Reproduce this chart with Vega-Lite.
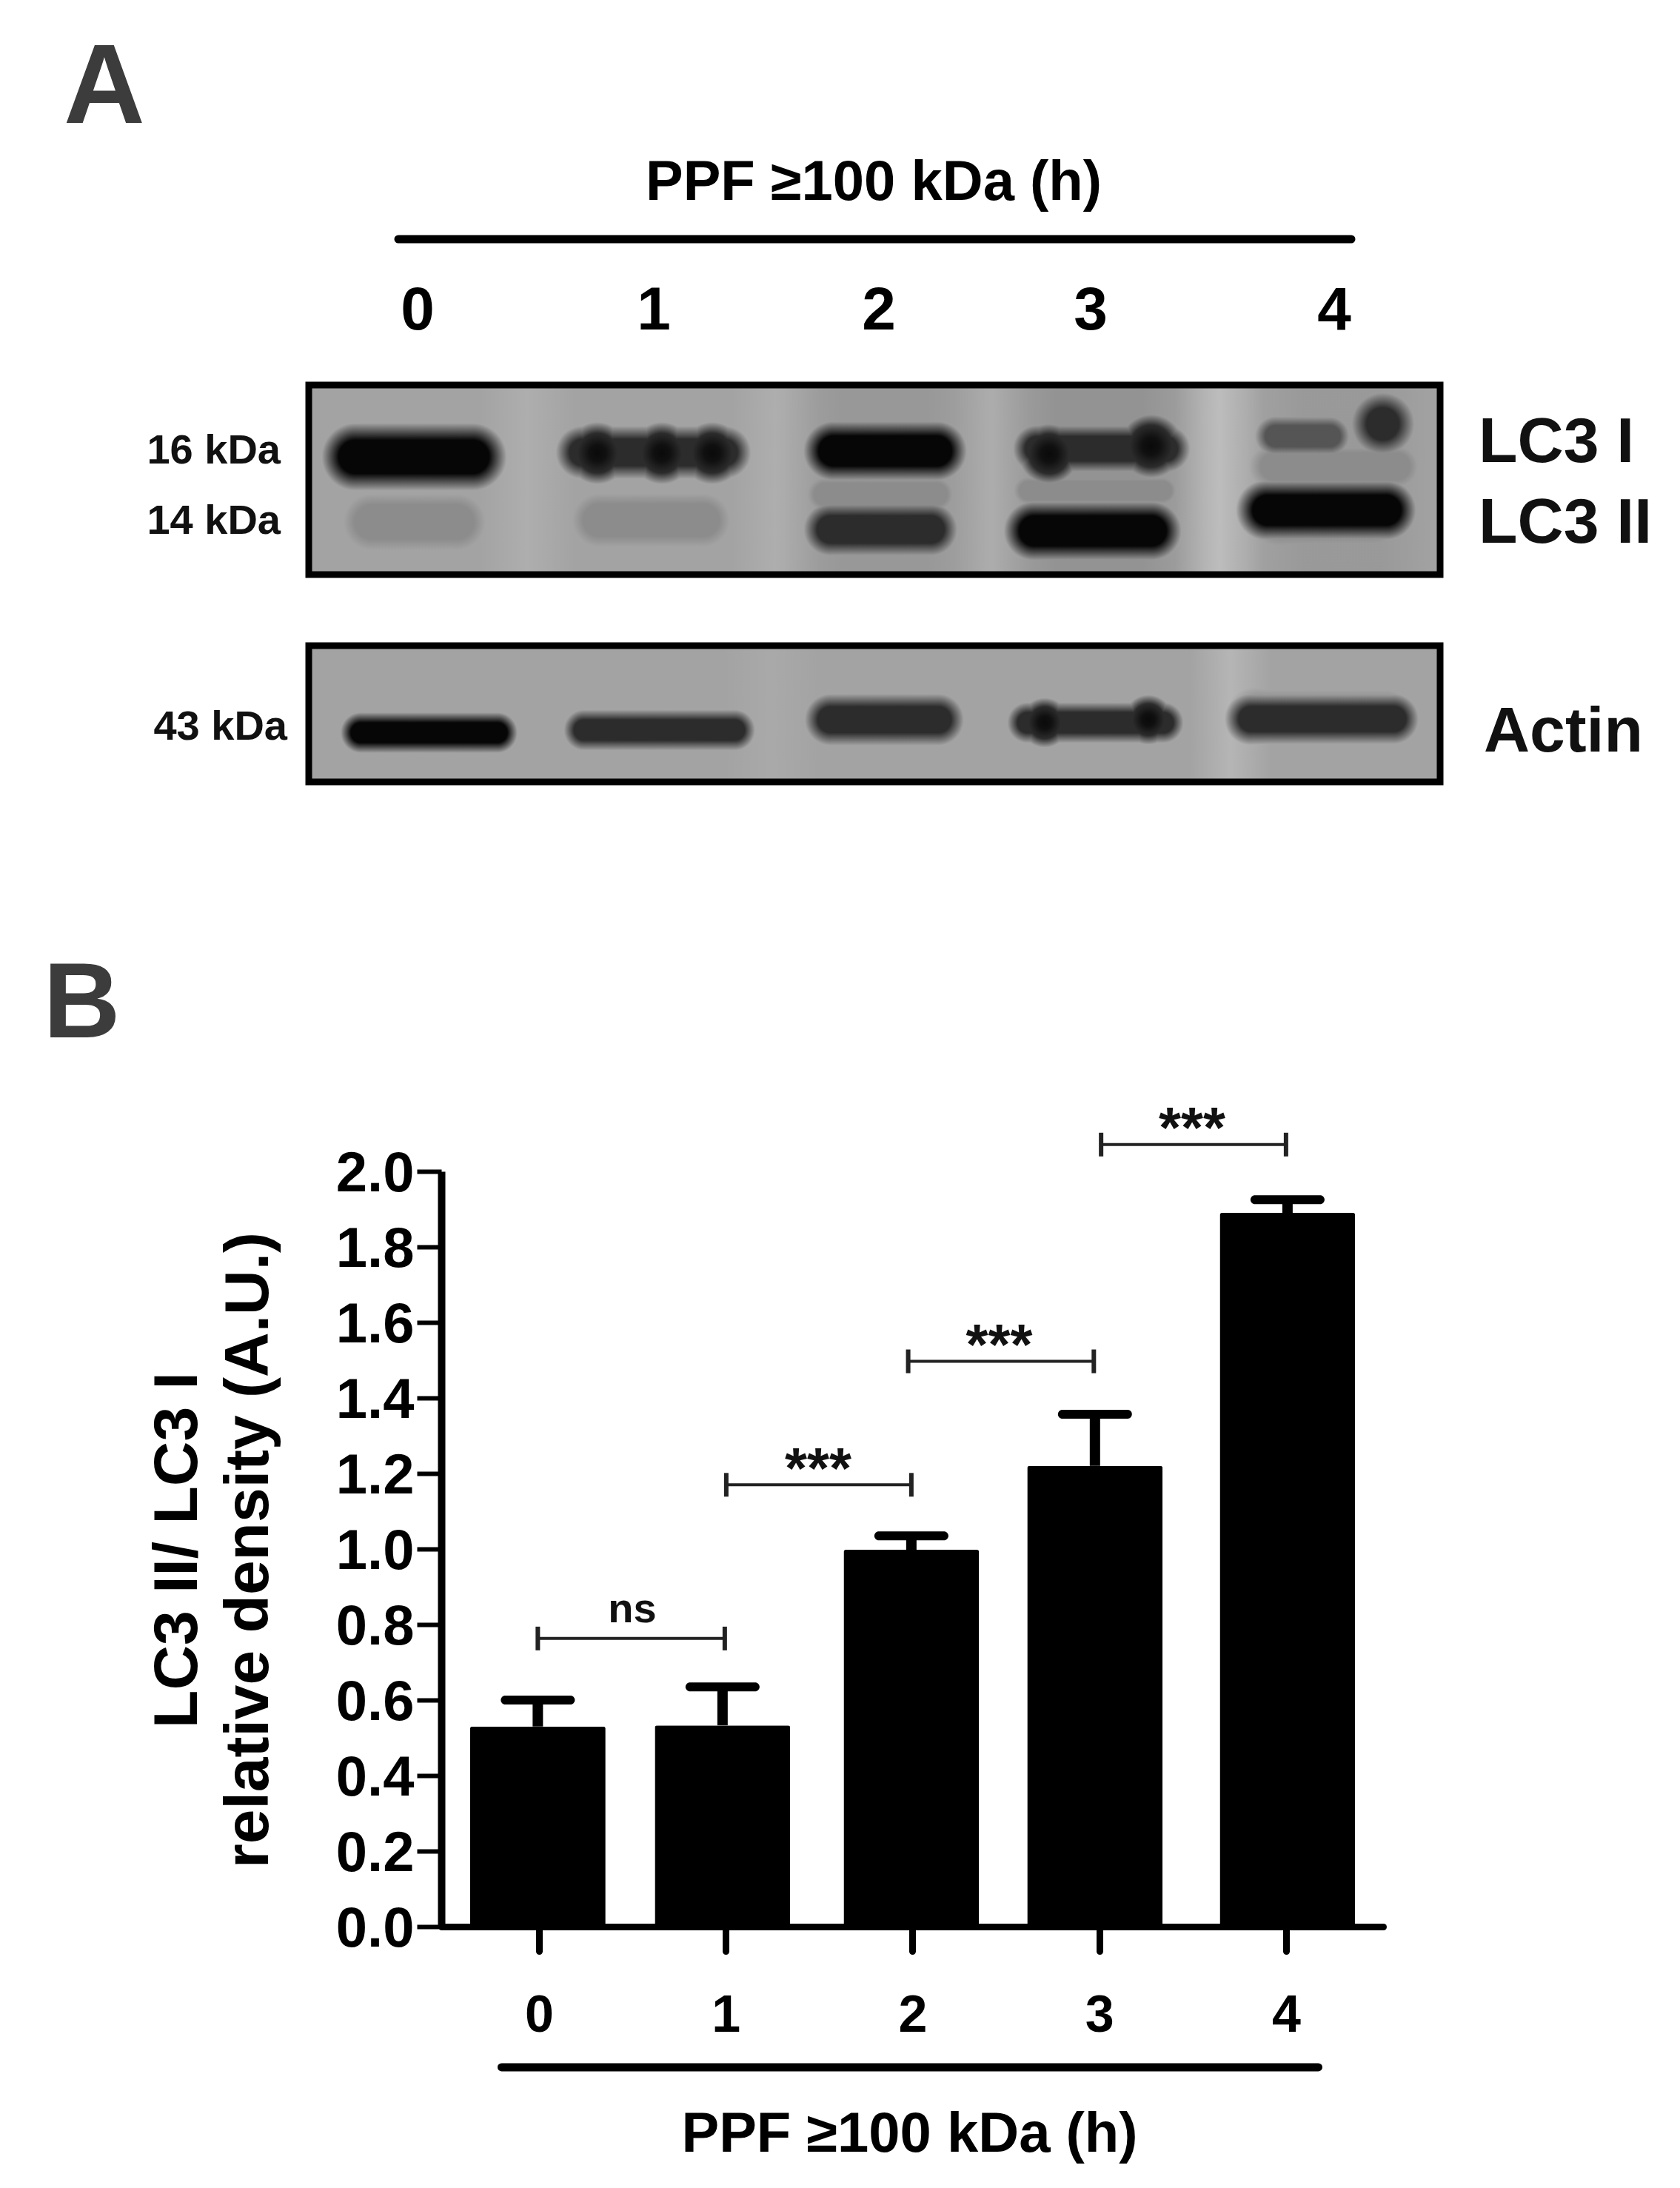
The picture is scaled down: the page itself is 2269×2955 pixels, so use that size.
{"$schema":"https://vega.github.io/schema/vega-lite/v6.json","width":2269,"height":2955,"autosize":{"type":"fit","contains":"padding"},"padding":0,"background":"white","config":{"view":{"stroke":null},"font":"Liberation Sans","axis":{"grid":false}},
"datasets":{
"bars":[{"hour":0,"pos":-0.006,"mean":0.53,"upper":0.60},{"hour":1,"pos":0.983,"mean":0.533,"upper":0.635},{"hour":2,"pos":1.994,"mean":0.998,"upper":1.035},{"hour":3,"pos":2.977,"mean":1.22,"upper":1.357},{"hour":4,"pos":4.008,"mean":1.89,"upper":1.925}],
"brackets":[{"from":-0.006,"to":0.995,"level":0.763,"mid":0.5,"labelY":0.84,"label":"ns"},{"from":1.003,"to":1.994,"level":1.17,"mid":1.495,"labelY":1.206,"label":"***"},{"from":1.977,"to":2.971,"level":1.497,"mid":2.464,"labelY":1.533,"label":"***"},{"from":3.01,"to":4.0,"level":2.071,"mid":3.497,"labelY":2.107,"label":"***"}],
"bodiesLC3":[
{"tone":"black","x1":63,"x2":221,"y1":48,"y2":146},{"tone":"black","x1":709,"x2":848,"y1":45,"y2":133},{"tone":"black","x1":980,"x2":1138,"y1":153,"y2":241},{"tone":"black","x1":1295,"x2":1455,"y1":125,"y2":213},
{"tone":"dark","x1":370,"x2":561,"y1":52,"y2":130},{"tone":"dark","x1":984,"x2":1157,"y1":50,"y2":122},{"tone":"dark","x1":705,"x2":840,"y1":155,"y2":235},
{"tone":"mid","x1":1306,"x2":1379,"y1":38,"y2":100},
{"tone":"faint","x1":1304,"x2":1469,"y1":70,"y2":150},{"tone":"faint","x1":85,"x2":200,"y1":135,"y2":235},{"tone":"faint","x1":392,"x2":533,"y1":135,"y2":230},{"tone":"faint","x1":697,"x2":848,"y1":115,"y2":180},{"tone":"faint","x1":972,"x2":1153,"y1":115,"y2":170},{"tone":"faint","x1":1312,"x2":1438,"y1":120,"y2":235}],
"capsLC3":[
{"tone":"black","x1":14,"x2":112,"y1":48,"y2":146},{"tone":"black","x1":172,"x2":270,"y1":48,"y2":146},{"tone":"black","x1":665,"x2":753,"y1":45,"y2":133},{"tone":"black","x1":804,"x2":892,"y1":45,"y2":133},{"tone":"black","x1":936,"x2":1024,"y1":153,"y2":241},{"tone":"black","x1":1094,"x2":1182,"y1":153,"y2":241},{"tone":"black","x1":1251,"x2":1339,"y1":125,"y2":213},{"tone":"black","x1":1411,"x2":1499,"y1":125,"y2":213},
{"tone":"peak","x1":345,"x2":435,"y1":47,"y2":137},{"tone":"peak","x1":432,"x2":522,"y1":47,"y2":137},{"tone":"peak","x1":500,"x2":590,"y1":47,"y2":137},{"tone":"peak","x1":955,"x2":1045,"y1":48,"y2":138},{"tone":"peak","x1":1090,"x2":1185,"y1":35,"y2":130},
{"tone":"dark","x1":331,"x2":409,"y1":52,"y2":130},{"tone":"dark","x1":522,"x2":600,"y1":52,"y2":130},{"tone":"dark","x1":948,"x2":1020,"y1":50,"y2":122},{"tone":"dark","x1":1121,"x2":1193,"y1":50,"y2":122},{"tone":"dark","x1":665,"x2":745,"y1":155,"y2":235},{"tone":"dark","x1":800,"x2":880,"y1":155,"y2":235},{"tone":"dark","x1":1403,"x2":1498,"y1":5,"y2":100},
{"tone":"mid","x1":1275,"x2":1337,"y1":38,"y2":100},{"tone":"mid","x1":1348,"x2":1410,"y1":38,"y2":100},
{"tone":"faint","x1":1264,"x2":1344,"y1":70,"y2":150},{"tone":"faint","x1":1429,"x2":1509,"y1":70,"y2":150},{"tone":"faint","x1":35,"x2":135,"y1":135,"y2":235},{"tone":"faint","x1":150,"x2":250,"y1":135,"y2":235},{"tone":"faint","x1":345,"x2":440,"y1":135,"y2":230},{"tone":"faint","x1":485,"x2":580,"y1":135,"y2":230},{"tone":"faint","x1":665,"x2":730,"y1":115,"y2":180},{"tone":"faint","x1":815,"x2":880,"y1":115,"y2":180},{"tone":"faint","x1":945,"x2":1000,"y1":115,"y2":170},{"tone":"faint","x1":1125,"x2":1180,"y1":115,"y2":170},{"tone":"faint","x1":1255,"x2":1370,"y1":120,"y2":235},{"tone":"faint","x1":1380,"x2":1495,"y1":120,"y2":235}],
"bodiesActin":[
{"tone":"black","x1":70,"x2":255,"y1":88,"y2":147},
{"tone":"dark","x1":372,"x2":575,"y1":84,"y2":144},{"tone":"dark","x1":705,"x2":850,"y1":62,"y2":138},{"tone":"dark","x1":971,"x2":1154,"y1":74,"y2":134},{"tone":"dark","x1":1273,"x2":1465,"y1":62,"y2":136},
{"tone":"faint","x1":1282,"x2":1456,"y1":50,"y2":135}],
"capsActin":[
{"tone":"black","x1":41,"x2":100,"y1":88,"y2":147},{"tone":"black","x1":225,"x2":284,"y1":88,"y2":147},{"tone":"peak","x1":958,"x2":1030,"y1":68,"y2":140},{"tone":"peak","x1":1098,"x2":1170,"y1":64,"y2":136},
{"tone":"dark","x1":342,"x2":402,"y1":84,"y2":144},{"tone":"dark","x1":545,"x2":605,"y1":84,"y2":144},{"tone":"dark","x1":667,"x2":743,"y1":62,"y2":138},{"tone":"dark","x1":812,"x2":888,"y1":62,"y2":138},{"tone":"dark","x1":941,"x2":1001,"y1":74,"y2":134},{"tone":"dark","x1":1124,"x2":1184,"y1":74,"y2":134},{"tone":"dark","x1":1236,"x2":1310,"y1":62,"y2":136},{"tone":"dark","x1":1428,"x2":1502,"y1":62,"y2":136},
{"tone":"faint","x1":1240,"x2":1325,"y1":50,"y2":135},{"tone":"faint","x1":1413,"x2":1498,"y1":50,"y2":135}],
"glowLC3":[{"x1":230,"x2":360,"density":0.12},{"x1":570,"x2":690,"density":0.12},{"x1":870,"x2":975,"density":0.1},{"x1":1170,"x2":1290,"density":0.28}],
"shadeLC3":[{"x1":640,"x2":915,"density":0.07},{"x1":925,"x2":1210,"density":0.1},{"x1":1265,"x2":1528,"density":0.06}],
"glowActin":[{"x1":560,"x2":690,"density":0.07},{"x1":1190,"x2":1300,"density":0.2}],
"blot":[{"x1":0,"x2":1528,"shade":171}],
"titleA":[{"label":"PPF ≥100 kDa (h)","gx":763,"gy":-273}],
"lanes":[{"label":"0","gx":147,"gy":-100},{"label":"1","gx":466,"gy":-100},{"label":"2","gx":770,"gy":-100},{"label":"3","gx":1056,"gy":-100},{"label":"4","gx":1385,"gy":-100}],
"kda":[{"label":"16 kDa","gx":-38,"gy":89},{"label":"14 kDa","gx":-38,"gy":184},{"label":"43 kDa","gx":-29,"gy":462}],
"proteins":[{"label":"LC3 I","gx":1580,"gy":78},{"label":"LC3 II","gx":1580,"gy":187},{"label":"Actin","gx":1587,"gy":469}]
},
"resolve":{"scale":{"x":"independent","y":"independent"}},
"layer":[
{"layer":[
{"data":{"name":"bars"},"mark":{"type":"bar","orient":"vertical","size":183,"color":"#000000","cornerRadius":3},"encoding":{"x":{"field":"pos","type":"quantitative","scale":{"domain":[-0.503,4.5],"range":[596,1868],"nice":false,"zero":false},"axis":{"values":[0,1,2,3,4],"format":"d","orient":"bottom","offset":-353,"title":"PPF ≥100 kDa (h)","titleX":1228,"titleY":303,"titleFontSize":76,"titleFontWeight":"bold","titleColor":"#000000","titleBaseline":"alphabetic","titleAlign":"center","labelFontSize":70,"labelFontWeight":"bold","labelColor":"#000000","labelPadding":53,"labelAngle":0,"tickSize":33,"tickWidth":9,"tickColor":"#000000","tickCap":"round","domainWidth":9,"domainColor":"#000000","domainCap":"round","labelFlush":false,"labelOverlap":false,"grid":false}},"y":{"field":"mean","type":"quantitative","scale":{"domain":[0,2],"range":[2602,1582],"nice":false,"zero":false},"axis":{"values":[0,0.2,0.4,0.6,0.8,1,1.2,1.4,1.6,1.8,2],"format":".1f","orient":"left","offset":-596,"title":["LC3 II/ LC3 I","relative density (A.U.)"],"titleX":-331,"titleY":2093,"titleAngle":-90,"titleFontSize":84,"titleFontWeight":"bold","titleColor":"#000000","titleBaseline":"alphabetic","titleAlign":"center","titleLineHeight":96,"labelFontSize":76,"labelFontWeight":"bold","labelColor":"#000000","labelPadding":4,"labelOffset":3,"tickSize":33,"tickWidth":6,"tickColor":"#000000","domainWidth":10,"domainColor":"#000000","labelFlush":false,"labelOverlap":false,"grid":false}}}},
{"data":{"name":"bars"},"mark":{"type":"rule","strokeWidth":14,"color":"#000000"},"encoding":{"x":{"field":"pos","type":"quantitative"},"y":{"field":"mean","type":"quantitative"},"y2":{"field":"upper"}}},
{"data":{"name":"bars"},"mark":{"type":"tick","orient":"horizontal","size":100,"thickness":12,"cornerRadius":6,"color":"#000000","opacity":1},"encoding":{"x":{"field":"pos","type":"quantitative"},"y":{"field":"upper","type":"quantitative"}}},
{"data":{"name":"brackets"},"mark":{"type":"rule","strokeWidth":4,"color":"#222222"},"encoding":{"x":{"field":"from","type":"quantitative"},"x2":{"field":"to"},"y":{"field":"level","type":"quantitative"}}},
{"data":{"name":"brackets"},"mark":{"type":"tick","orient":"vertical","size":32,"thickness":6,"color":"#222222","opacity":1},"encoding":{"x":{"field":"from","type":"quantitative"},"y":{"field":"level","type":"quantitative"}}},
{"data":{"name":"brackets"},"mark":{"type":"tick","orient":"vertical","size":32,"thickness":6,"color":"#222222","opacity":1},"encoding":{"x":{"field":"to","type":"quantitative"},"y":{"field":"level","type":"quantitative"}}},
{"data":{"name":"brackets"},"transform":[{"filter":"datum.label==='ns'"}],"mark":{"type":"text","fontSize":56,"fontWeight":"bold","color":"#111111","baseline":"middle"},"encoding":{"x":{"field":"mid","type":"quantitative"},"y":{"field":"labelY","type":"quantitative"},"text":{"field":"label"}}},
{"data":{"name":"brackets"},"transform":[{"filter":"datum.label!=='ns'"}],"mark":{"type":"text","fontSize":77,"fontWeight":"bold","color":"#111111","baseline":"middle"},"encoding":{"x":{"field":"mid","type":"quantitative"},"y":{"field":"labelY","type":"quantitative"},"text":{"field":"label"}}},
{"data":{"values":[{"from":-0.2,"to":4.173,"level":-0.3725}]},"mark":{"type":"rule","strokeWidth":11,"strokeCap":"round","color":"#000000"},"encoding":{"x":{"field":"from","type":"quantitative"},"x2":{"field":"to"},"y":{"field":"level","type":"quantitative"}}},
{"data":{"values":[{"label":"B","px":-2.448,"py":2.439}]},"mark":{"type":"text","fontSize":144,"fontWeight":"bold","color":"#3c3c3c","baseline":"middle"},"encoding":{"x":{"field":"px","type":"quantitative"},"y":{"field":"py","type":"quantitative"},"text":{"field":"label"}}}
]},
{"layer":[
{"data":{"name":"blot"},"mark":{"type":"rect","strokeWidth":0},"encoding":{"x":{"field":"x1","type":"quantitative","axis":null,"scale":{"domain":[0,1528],"range":[417,1945],"nice":false,"zero":false}},"x2":{"field":"x2"},"y":{"datum":0,"type":"quantitative","axis":null,"scale":{"domain":[0,256],"range":[520,776],"nice":false,"zero":false}},"y2":{"datum":256},"color":{"field":"shade","type":"quantitative","legend":null,"scale":{"domain":[0,255],"range":["#000000","#ffffff"]}}}},
{"data":{"name":"glowLC3"},"mark":{"type":"rect","strokeWidth":0,"fill":{"gradient":"linear","x1":0,"y1":0,"x2":1,"y2":0,"stops":[{"offset":0,"color":"rgba(255,255,255,0)"},{"offset":0.5,"color":"rgba(255,255,255,1)"},{"offset":1,"color":"rgba(255,255,255,0)"}]}},"encoding":{"x":{"field":"x1","type":"quantitative","axis":null},"x2":{"field":"x2"},"y":{"datum":0,"type":"quantitative","axis":null},"y2":{"datum":256},"opacity":{"field":"density","type":"quantitative","legend":null,"scale":{"domain":[0,1],"range":[0,1]}}}},
{"data":{"name":"shadeLC3"},"mark":{"type":"rect","strokeWidth":0,"fill":{"gradient":"linear","x1":0,"y1":0,"x2":1,"y2":0,"stops":[{"offset":0,"color":"rgba(0,0,0,0)"},{"offset":0.3,"color":"rgba(0,0,0,1)"},{"offset":0.7,"color":"rgba(0,0,0,1)"},{"offset":1,"color":"rgba(0,0,0,0)"}]}},"encoding":{"x":{"field":"x1","type":"quantitative","axis":null},"x2":{"field":"x2"},"y":{"datum":0,"type":"quantitative","axis":null},"y2":{"datum":256},"opacity":{"field":"density","type":"quantitative","legend":null,"scale":{"domain":[0,1],"range":[0,1]}}}},
{"data":{"name":"bodiesLC3"},"transform":[{"filter":"datum.tone==='faint'"}],"mark":{"type":"rect","strokeWidth":0,"blend":"darken","fill":{"gradient":"linear","x1":0,"y1":0,"x2":0,"y2":1,"stops":[{"offset":0,"color":"#ffffff"},{"offset":0.01,"color":"#b4b4b4"},{"offset":0.27,"color":"#8c8c8c"},{"offset":0.73,"color":"#8c8c8c"},{"offset":0.99,"color":"#b4b4b4"},{"offset":1,"color":"#ffffff"}]}},"encoding":{"x":{"field":"x1","type":"quantitative","axis":null},"x2":{"field":"x2"},"y":{"field":"y1","type":"quantitative","axis":null},"y2":{"field":"y2"}}},
{"data":{"name":"capsLC3"},"transform":[{"filter":"datum.tone==='faint'"}],"mark":{"type":"rect","strokeWidth":0,"blend":"darken","fill":{"gradient":"radial","x1":0.5,"y1":0.5,"r1":0,"x2":0.5,"y2":0.5,"r2":0.5,"stops":[{"offset":0,"color":"#8c8c8c"},{"offset":0.46,"color":"#8c8c8c"},{"offset":0.98,"color":"#b4b4b4"},{"offset":1,"color":"#ffffff"}]}},"encoding":{"x":{"field":"x1","type":"quantitative","axis":null},"x2":{"field":"x2"},"y":{"field":"y1","type":"quantitative","axis":null},"y2":{"field":"y2"}}},
{"data":{"name":"bodiesLC3"},"transform":[{"filter":"datum.tone==='mid'"}],"mark":{"type":"rect","strokeWidth":0,"blend":"darken","fill":{"gradient":"linear","x1":0,"y1":0,"x2":0,"y2":1,"stops":[{"offset":0,"color":"#ffffff"},{"offset":0.01,"color":"#b4b4b4"},{"offset":0.27,"color":"#555555"},{"offset":0.73,"color":"#555555"},{"offset":0.99,"color":"#b4b4b4"},{"offset":1,"color":"#ffffff"}]}},"encoding":{"x":{"field":"x1","type":"quantitative","axis":null},"x2":{"field":"x2"},"y":{"field":"y1","type":"quantitative","axis":null},"y2":{"field":"y2"}}},
{"data":{"name":"capsLC3"},"transform":[{"filter":"datum.tone==='mid'"}],"mark":{"type":"rect","strokeWidth":0,"blend":"darken","fill":{"gradient":"radial","x1":0.5,"y1":0.5,"r1":0,"x2":0.5,"y2":0.5,"r2":0.5,"stops":[{"offset":0,"color":"#555555"},{"offset":0.46,"color":"#555555"},{"offset":0.98,"color":"#b4b4b4"},{"offset":1,"color":"#ffffff"}]}},"encoding":{"x":{"field":"x1","type":"quantitative","axis":null},"x2":{"field":"x2"},"y":{"field":"y1","type":"quantitative","axis":null},"y2":{"field":"y2"}}},
{"data":{"name":"bodiesLC3"},"transform":[{"filter":"datum.tone==='dark'"}],"mark":{"type":"rect","strokeWidth":0,"blend":"darken","fill":{"gradient":"linear","x1":0,"y1":0,"x2":0,"y2":1,"stops":[{"offset":0,"color":"#ffffff"},{"offset":0.01,"color":"#b4b4b4"},{"offset":0.27,"color":"#2c2c2c"},{"offset":0.73,"color":"#2c2c2c"},{"offset":0.99,"color":"#b4b4b4"},{"offset":1,"color":"#ffffff"}]}},"encoding":{"x":{"field":"x1","type":"quantitative","axis":null},"x2":{"field":"x2"},"y":{"field":"y1","type":"quantitative","axis":null},"y2":{"field":"y2"}}},
{"data":{"name":"capsLC3"},"transform":[{"filter":"datum.tone==='dark'"}],"mark":{"type":"rect","strokeWidth":0,"blend":"darken","fill":{"gradient":"radial","x1":0.5,"y1":0.5,"r1":0,"x2":0.5,"y2":0.5,"r2":0.5,"stops":[{"offset":0,"color":"#2c2c2c"},{"offset":0.46,"color":"#2c2c2c"},{"offset":0.98,"color":"#b4b4b4"},{"offset":1,"color":"#ffffff"}]}},"encoding":{"x":{"field":"x1","type":"quantitative","axis":null},"x2":{"field":"x2"},"y":{"field":"y1","type":"quantitative","axis":null},"y2":{"field":"y2"}}},
{"data":{"name":"capsLC3"},"transform":[{"filter":"datum.tone==='peak'"}],"mark":{"type":"rect","strokeWidth":0,"blend":"darken","fill":{"gradient":"radial","x1":0.5,"y1":0.5,"r1":0,"x2":0.5,"y2":0.5,"r2":0.5,"stops":[{"offset":0,"color":"#0a0a0a"},{"offset":0.25,"color":"#101010"},{"offset":0.6,"color":"#2c2c2c"},{"offset":0.98,"color":"#b4b4b4"},{"offset":1,"color":"#ffffff"}]}},"encoding":{"x":{"field":"x1","type":"quantitative","axis":null},"x2":{"field":"x2"},"y":{"field":"y1","type":"quantitative","axis":null},"y2":{"field":"y2"}}},
{"data":{"name":"bodiesLC3"},"transform":[{"filter":"datum.tone==='black'"}],"mark":{"type":"rect","strokeWidth":0,"blend":"darken","fill":{"gradient":"linear","x1":0,"y1":0,"x2":0,"y2":1,"stops":[{"offset":0,"color":"#ffffff"},{"offset":0.01,"color":"#b4b4b4"},{"offset":0.27,"color":"#060606"},{"offset":0.73,"color":"#060606"},{"offset":0.99,"color":"#b4b4b4"},{"offset":1,"color":"#ffffff"}]}},"encoding":{"x":{"field":"x1","type":"quantitative","axis":null},"x2":{"field":"x2"},"y":{"field":"y1","type":"quantitative","axis":null},"y2":{"field":"y2"}}},
{"data":{"name":"capsLC3"},"transform":[{"filter":"datum.tone==='black'"}],"mark":{"type":"rect","strokeWidth":0,"blend":"darken","fill":{"gradient":"radial","x1":0.5,"y1":0.5,"r1":0,"x2":0.5,"y2":0.5,"r2":0.5,"stops":[{"offset":0,"color":"#060606"},{"offset":0.46,"color":"#060606"},{"offset":0.98,"color":"#b4b4b4"},{"offset":1,"color":"#ffffff"}]}},"encoding":{"x":{"field":"x1","type":"quantitative","axis":null},"x2":{"field":"x2"},"y":{"field":"y1","type":"quantitative","axis":null},"y2":{"field":"y2"}}},
{"data":{"name":"blot"},"mark":{"type":"rect","filled":false,"stroke":"#000000","strokeWidth":9},"encoding":{"x":{"field":"x1","type":"quantitative","axis":null},"x2":{"field":"x2"},"y":{"datum":0,"type":"quantitative","axis":null},"y2":{"datum":256}}},
{"data":{"name":"titleA"},"mark":{"type":"text","fontSize":76,"fontWeight":"bold","color":"#000000","baseline":"middle"},"encoding":{"x":{"field":"gx","type":"quantitative","axis":null},"y":{"field":"gy","type":"quantitative","axis":null},"text":{"field":"label"}}},
{"data":{"name":"lanes"},"mark":{"type":"text","fontSize":82,"fontWeight":"bold","color":"#000000","baseline":"middle"},"encoding":{"x":{"field":"gx","type":"quantitative","axis":null},"y":{"field":"gy","type":"quantitative","axis":null},"text":{"field":"label"}}},
{"data":{"name":"kda"},"mark":{"type":"text","fontSize":56,"fontWeight":"bold","color":"#111111","baseline":"middle","align":"right"},"encoding":{"x":{"field":"gx","type":"quantitative","axis":null},"y":{"field":"gy","type":"quantitative","axis":null},"text":{"field":"label"}}},
{"data":{"name":"proteins"},"mark":{"type":"text","fontSize":86,"fontWeight":"bold","color":"#111111","baseline":"middle","align":"left"},"encoding":{"x":{"field":"gx","type":"quantitative","axis":null},"y":{"field":"gy","type":"quantitative","axis":null},"text":{"field":"label"}}},
{"data":{"values":[{"from":121,"to":1408,"level":-197}]},"mark":{"type":"rule","strokeWidth":11,"strokeCap":"round","color":"#000000"},"encoding":{"x":{"field":"from","type":"quantitative","axis":null},"x2":{"field":"to"},"y":{"field":"level","type":"quantitative","axis":null}}},
{"data":{"values":[{"label":"A","gx":-276,"gy":-400}]},"mark":{"type":"text","fontSize":152,"fontWeight":"bold","color":"#3c3c3c","baseline":"middle"},"encoding":{"x":{"field":"gx","type":"quantitative","axis":null},"y":{"field":"gy","type":"quantitative","axis":null},"text":{"field":"label"}}}
]},
{"layer":[
{"data":{"name":"blot"},"mark":{"type":"rect","strokeWidth":0},"encoding":{"x":{"field":"x1","type":"quantitative","axis":null,"scale":{"domain":[0,1528],"range":[417,1945],"nice":false,"zero":false}},"x2":{"field":"x2"},"y":{"datum":0,"type":"quantitative","axis":null,"scale":{"domain":[0,184],"range":[872,1056],"nice":false,"zero":false}},"y2":{"datum":184},"color":{"field":"shade","type":"quantitative","legend":null,"scale":{"domain":[0,255],"range":["#000000","#ffffff"]}}}},
{"data":{"name":"glowActin"},"mark":{"type":"rect","strokeWidth":0,"fill":{"gradient":"linear","x1":0,"y1":0,"x2":1,"y2":0,"stops":[{"offset":0,"color":"rgba(255,255,255,0)"},{"offset":0.5,"color":"rgba(255,255,255,1)"},{"offset":1,"color":"rgba(255,255,255,0)"}]}},"encoding":{"x":{"field":"x1","type":"quantitative","axis":null},"x2":{"field":"x2"},"y":{"datum":0,"type":"quantitative","axis":null},"y2":{"datum":184},"opacity":{"field":"density","type":"quantitative","legend":null,"scale":{"domain":[0,1],"range":[0,1]}}}},
{"data":{"name":"bodiesActin"},"transform":[{"filter":"datum.tone==='faint'"}],"mark":{"type":"rect","strokeWidth":0,"blend":"darken","fill":{"gradient":"linear","x1":0,"y1":0,"x2":0,"y2":1,"stops":[{"offset":0,"color":"#ffffff"},{"offset":0.01,"color":"#b4b4b4"},{"offset":0.27,"color":"#8c8c8c"},{"offset":0.73,"color":"#8c8c8c"},{"offset":0.99,"color":"#b4b4b4"},{"offset":1,"color":"#ffffff"}]}},"encoding":{"x":{"field":"x1","type":"quantitative","axis":null},"x2":{"field":"x2"},"y":{"field":"y1","type":"quantitative","axis":null},"y2":{"field":"y2"}}},
{"data":{"name":"capsActin"},"transform":[{"filter":"datum.tone==='faint'"}],"mark":{"type":"rect","strokeWidth":0,"blend":"darken","fill":{"gradient":"radial","x1":0.5,"y1":0.5,"r1":0,"x2":0.5,"y2":0.5,"r2":0.5,"stops":[{"offset":0,"color":"#8c8c8c"},{"offset":0.46,"color":"#8c8c8c"},{"offset":0.98,"color":"#b4b4b4"},{"offset":1,"color":"#ffffff"}]}},"encoding":{"x":{"field":"x1","type":"quantitative","axis":null},"x2":{"field":"x2"},"y":{"field":"y1","type":"quantitative","axis":null},"y2":{"field":"y2"}}},
{"data":{"name":"bodiesActin"},"transform":[{"filter":"datum.tone==='dark'"}],"mark":{"type":"rect","strokeWidth":0,"blend":"darken","fill":{"gradient":"linear","x1":0,"y1":0,"x2":0,"y2":1,"stops":[{"offset":0,"color":"#ffffff"},{"offset":0.01,"color":"#b4b4b4"},{"offset":0.27,"color":"#2c2c2c"},{"offset":0.73,"color":"#2c2c2c"},{"offset":0.99,"color":"#b4b4b4"},{"offset":1,"color":"#ffffff"}]}},"encoding":{"x":{"field":"x1","type":"quantitative","axis":null},"x2":{"field":"x2"},"y":{"field":"y1","type":"quantitative","axis":null},"y2":{"field":"y2"}}},
{"data":{"name":"capsActin"},"transform":[{"filter":"datum.tone==='dark'"}],"mark":{"type":"rect","strokeWidth":0,"blend":"darken","fill":{"gradient":"radial","x1":0.5,"y1":0.5,"r1":0,"x2":0.5,"y2":0.5,"r2":0.5,"stops":[{"offset":0,"color":"#2c2c2c"},{"offset":0.46,"color":"#2c2c2c"},{"offset":0.98,"color":"#b4b4b4"},{"offset":1,"color":"#ffffff"}]}},"encoding":{"x":{"field":"x1","type":"quantitative","axis":null},"x2":{"field":"x2"},"y":{"field":"y1","type":"quantitative","axis":null},"y2":{"field":"y2"}}},
{"data":{"name":"capsActin"},"transform":[{"filter":"datum.tone==='peak'"}],"mark":{"type":"rect","strokeWidth":0,"blend":"darken","fill":{"gradient":"radial","x1":0.5,"y1":0.5,"r1":0,"x2":0.5,"y2":0.5,"r2":0.5,"stops":[{"offset":0,"color":"#0a0a0a"},{"offset":0.25,"color":"#101010"},{"offset":0.6,"color":"#2c2c2c"},{"offset":0.98,"color":"#b4b4b4"},{"offset":1,"color":"#ffffff"}]}},"encoding":{"x":{"field":"x1","type":"quantitative","axis":null},"x2":{"field":"x2"},"y":{"field":"y1","type":"quantitative","axis":null},"y2":{"field":"y2"}}},
{"data":{"name":"bodiesActin"},"transform":[{"filter":"datum.tone==='black'"}],"mark":{"type":"rect","strokeWidth":0,"blend":"darken","fill":{"gradient":"linear","x1":0,"y1":0,"x2":0,"y2":1,"stops":[{"offset":0,"color":"#ffffff"},{"offset":0.01,"color":"#b4b4b4"},{"offset":0.27,"color":"#060606"},{"offset":0.73,"color":"#060606"},{"offset":0.99,"color":"#b4b4b4"},{"offset":1,"color":"#ffffff"}]}},"encoding":{"x":{"field":"x1","type":"quantitative","axis":null},"x2":{"field":"x2"},"y":{"field":"y1","type":"quantitative","axis":null},"y2":{"field":"y2"}}},
{"data":{"name":"capsActin"},"transform":[{"filter":"datum.tone==='black'"}],"mark":{"type":"rect","strokeWidth":0,"blend":"darken","fill":{"gradient":"radial","x1":0.5,"y1":0.5,"r1":0,"x2":0.5,"y2":0.5,"r2":0.5,"stops":[{"offset":0,"color":"#060606"},{"offset":0.46,"color":"#060606"},{"offset":0.98,"color":"#b4b4b4"},{"offset":1,"color":"#ffffff"}]}},"encoding":{"x":{"field":"x1","type":"quantitative","axis":null},"x2":{"field":"x2"},"y":{"field":"y1","type":"quantitative","axis":null},"y2":{"field":"y2"}}},
{"data":{"name":"blot"},"mark":{"type":"rect","filled":false,"stroke":"#000000","strokeWidth":9},"encoding":{"x":{"field":"x1","type":"quantitative","axis":null},"x2":{"field":"x2"},"y":{"datum":0,"type":"quantitative","axis":null},"y2":{"datum":184}}}
]}
]}
